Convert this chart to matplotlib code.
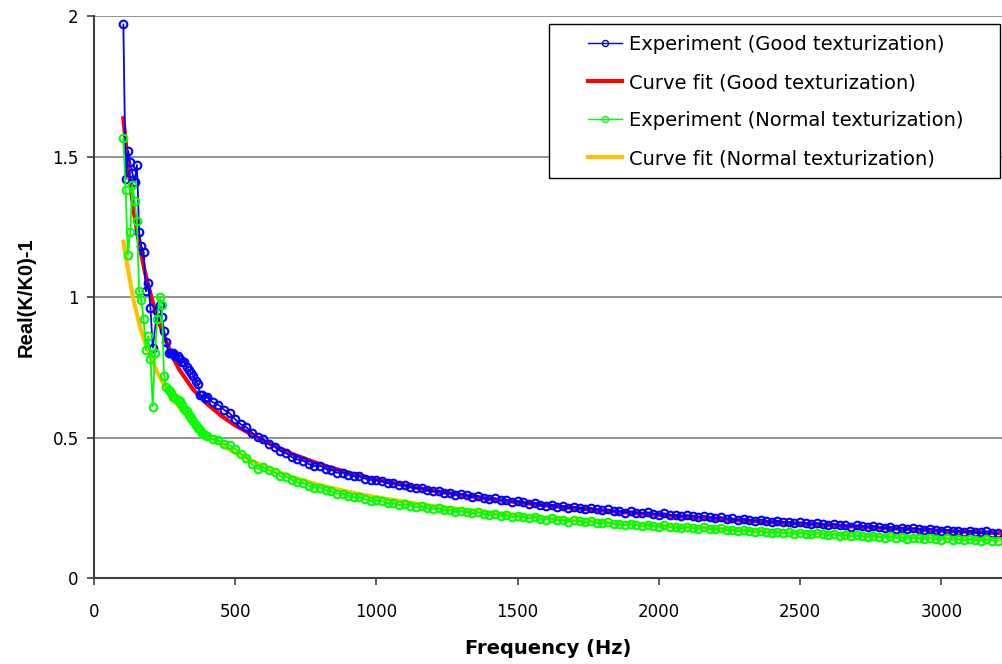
import numpy as np
from matplotlib import pyplot as plt
from matplotlib.patches import Rectangle

plt.rcParams['font.family'] = ['DejaVu Sans']

# Experiment (Good texturization) - low frequency part
good_freq_low = [104, 112, 121, 128, 136, 144, 152, 160, 168, 176, 184, 192, 200, 208,
                 224, 232, 240, 248, 256, 264, 272, 280, 288, 296, 304, 312, 320, 328,
                 336, 344, 352, 360, 368, 376, 384, 392]
good_val_low = [1.97, 1.42, 1.52, 1.48, 1.44, 1.41, 1.47, 1.23, 1.18, 1.16, 1.02, 1.05, 0.96, 0.82,
                0.95, 0.97, 0.93, 0.88, 0.84, 0.80, 0.80, 0.80, 0.79, 0.79, 0.78, 0.77, 0.77, 0.75,
                0.74, 0.73, 0.72, 0.70, 0.69, 0.65, 0.65, 0.64]

# tail, every 20 Hz from 400 to 3200
tail_freq = np.arange(400, 3201, 20)
good_val_tail = [
    0.643, 0.626, 0.617, 0.599, 0.586, 0.565, 0.547, 0.536, 0.517, 0.502,
    0.493, 0.476, 0.468, 0.452, 0.444, 0.431, 0.422, 0.418, 0.406, 0.399,
    0.400, 0.388, 0.385, 0.375, 0.375, 0.368, 0.362, 0.362, 0.354, 0.349,
    0.350,
    0.346, 0.338, 0.337, 0.330, 0.331, 0.325, 0.319, 0.321, 0.313, 0.309,
    0.311, 0.303, 0.304, 0.297, 0.299, 0.294, 0.290, 0.292, 0.285, 0.282,
    0.284, 0.277, 0.278, 0.271, 0.274, 0.270, 0.265, 0.268, 0.261, 0.258,
    0.261, 0.254, 0.256, 0.250, 0.253, 0.249, 0.246, 0.249, 0.244, 0.241,
    0.244, 0.238, 0.239, 0.233, 0.237, 0.233, 0.230, 0.234, 0.228, 0.226,
    0.230, 0.224, 0.225, 0.220, 0.224, 0.221, 0.217, 0.221, 0.216, 0.214,
    0.217, 0.211, 0.212, 0.207, 0.211, 0.207, 0.204, 0.208, 0.202, 0.200,
    0.204, 0.198, 0.199, 0.194, 0.198, 0.195, 0.192, 0.196, 0.191, 0.189,
    0.193, 0.187, 0.188, 0.183, 0.187, 0.184, 0.181, 0.185, 0.180, 0.178,
    0.182, 0.176, 0.178, 0.173, 0.177, 0.174, 0.171, 0.175, 0.170, 0.168,
    0.172, 0.166, 0.168, 0.164, 0.168, 0.165, 0.162, 0.166, 0.161, 0.159]

# Experiment (Normal texturization)
normal_freq_low = [104, 112, 120, 128, 136, 144, 152, 160, 168, 176, 184, 192, 200, 208,
                   216, 224, 232, 240, 248, 256, 264, 272, 280, 288, 296, 304, 312, 320,
                   328, 336, 344, 352, 360, 368, 376, 384, 392]
normal_val_low = [1.565, 1.38, 1.15, 1.23, 1.40, 1.34, 1.27, 1.02, 0.99, 0.92, 0.81, 0.86, 0.78, 0.61,
                  0.80, 0.92, 1.00, 0.97, 0.72, 0.68, 0.67, 0.66, 0.645, 0.64, 0.635, 0.63, 0.615, 0.60,
                  0.595, 0.58, 0.57, 0.56, 0.545, 0.535, 0.525, 0.515, 0.51]
normal_val_tail = [
    0.506, 0.495, 0.490, 0.477, 0.472, 0.460, 0.443, 0.428, 0.404, 0.388,
    0.396, 0.383, 0.376, 0.363, 0.360, 0.350, 0.340, 0.339, 0.329, 0.322,
    0.322, 0.312, 0.309, 0.300, 0.300, 0.293, 0.287, 0.288, 0.280, 0.275,
    0.277,
    0.274, 0.266, 0.267, 0.260, 0.262, 0.258, 0.253, 0.255, 0.249, 0.245,
    0.248, 0.241, 0.242, 0.236, 0.239, 0.235, 0.231, 0.234, 0.228, 0.225,
    0.228, 0.221, 0.223, 0.217, 0.221, 0.217, 0.213, 0.217, 0.211, 0.208,
    0.212, 0.205, 0.207, 0.201, 0.205, 0.202, 0.198, 0.202, 0.196, 0.194,
    0.198, 0.192, 0.193, 0.188, 0.192, 0.189, 0.186, 0.190, 0.185, 0.183,
    0.187, 0.181, 0.183, 0.178, 0.182, 0.179, 0.176, 0.180, 0.175, 0.173,
    0.177, 0.170, 0.172, 0.167, 0.171, 0.168, 0.164, 0.168, 0.163, 0.161,
    0.165, 0.159, 0.162, 0.157, 0.161, 0.158, 0.155, 0.160, 0.155, 0.153,
    0.157, 0.151, 0.153, 0.148, 0.152, 0.149, 0.147, 0.151, 0.146, 0.144,
    0.148, 0.143, 0.145, 0.140, 0.144, 0.142, 0.139, 0.143, 0.139, 0.137,
    0.142, 0.136, 0.138, 0.134, 0.138, 0.136, 0.133, 0.138, 0.133, 0.132]

# Curve fits
fit_freq = [104, 120, 140, 160, 180, 200, 225, 250, 275, 300, 350, 400, 450, 500,
            600, 700, 800, 900, 1000, 1200, 1400, 1600, 1800, 2000, 2250, 2500,
            2750, 3000, 3250]
fit_good = [1.636, 1.47, 1.31, 1.19, 1.09, 1.01, 0.925, 0.855, 0.795, 0.745, 0.672, 0.62, 0.578, 0.543,
            0.488, 0.442, 0.405, 0.375, 0.35, 0.31, 0.281, 0.258, 0.24, 0.224, 0.207, 0.193,
            0.18, 0.168, 0.158]
fit_normal = [1.197, 1.10, 0.99, 0.905, 0.84, 0.785, 0.73, 0.685, 0.645, 0.61, 0.555, 0.51, 0.475, 0.445,
              0.398, 0.36, 0.33, 0.307, 0.287, 0.256, 0.233, 0.214, 0.199, 0.186, 0.173, 0.162,
              0.152, 0.143, 0.136]

good_freq = list(good_freq_low) + list(tail_freq)
good_val = good_val_low + good_val_tail
normal_freq = list(normal_freq_low) + list(tail_freq)
normal_val = normal_val_low + normal_val_tail

fig = plt.figure(figsize=(10.02, 6.64), dpi=100)
ax = fig.add_axes([0.0938, 0.1295, 0.9062, 0.8464])

ax.plot(fit_freq, fit_good, '-', color='#FF0000', linewidth=3, zorder=2,
        label='Curve fit (Good texturization)')
ax.plot(fit_freq, fit_normal, '-', color='#FFC000', linewidth=3, zorder=2,
        label='Curve fit (Normal texturization)')
ax.plot(good_freq, good_val, '-', color='#0000FF', linewidth=1.3, marker='o', markersize=5.5,
        markerfacecolor='none', markeredgewidth=1.5, zorder=3,
        label='Experiment (Good texturization)')
ax.plot(normal_freq, normal_val, '-', color='#00FF00', linewidth=1.3, marker='o', markersize=5.5,
        markerfacecolor='none', markeredgewidth=1.5, zorder=4,
        label='Experiment (Normal texturization)')

ax.set_xlim(0, 3215)
ax.set_ylim(0, 2)
ax.set_xticks(range(0, 3001, 500))
ax.set_yticks([0, 0.5, 1, 1.5, 2])
ax.set_yticklabels(['0', '0.5', '1', '1.5', '2'])
ax.yaxis.grid(True, color='#808080', linewidth=1.2)
ax.set_axisbelow(True)
for s in ['top', 'right']:
    ax.spines[s].set_visible(False)
for s in ['left', 'bottom']:
    ax.spines[s].set_color('#404040')
    ax.spines[s].set_linewidth(1.5)
ax.tick_params(direction='out', length=5, width=1.2, color='#404040', labelsize=12, pad=6)
ax.tick_params(axis='x', pad=13)

ax.set_xlabel('Frequency (Hz)', fontsize=14, fontweight='bold', labelpad=13)
ax.set_ylabel('Real(K/K0)-1', fontsize=14.5, fontweight='bold', labelpad=12,
              family='Liberation Sans')

# legend box (drawn as Excel does: wide margins)
fig.patches.append(Rectangle((549 / 1002, 1 - 178 / 664), 451 / 1002, 154 / 664,
                             transform=fig.transFigure, facecolor='white',
                             edgecolor='black', linewidth=1.0, zorder=9))

handles, labels = ax.get_legend_handles_labels()
order = [2, 0, 3, 1]
leg = fig.legend([handles[i] for i in order], [labels[i] for i in order],
                 loc='upper left', bbox_to_anchor=(588 / 1002, 1 - 35 / 664),
                 fontsize=14, frameon=False,
                 handlelength=1.75, markerscale=0.8, labelspacing=0.98, borderpad=0,
                 handletextpad=0.35, borderaxespad=0)
leg.set_zorder(10)
for h in leg.legend_handles:
    if h.get_marker() == 'o':
        h.set_markeredgewidth(1.0)
        h.set_linewidth(1.0)

plt.savefig('out.png', dpi=100)
